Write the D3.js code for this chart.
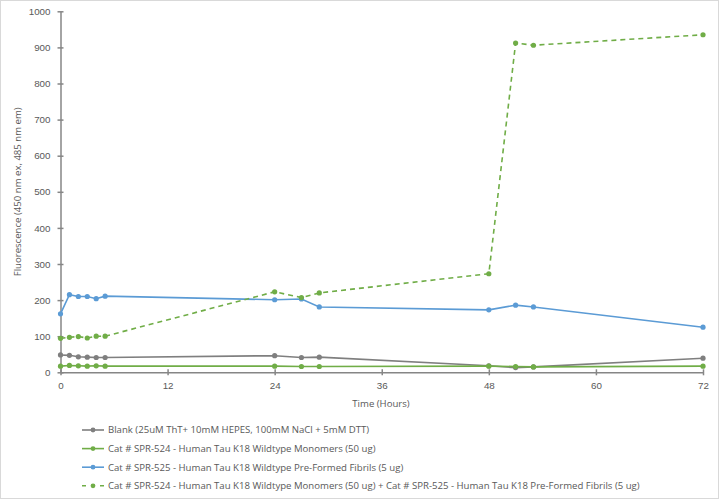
<!DOCTYPE html>
<html>
<head>
<meta charset="utf-8">
<script src="https://cdn.jsdelivr.net/npm/d3@7"></script>
<style>
  body { margin: 0; background: #fff; }
  svg { display: block; font-family: 'Open Sans', sans-serif; }
  .axis text { fill: #595959; font-size: 9.8px; }
  .axis path, .axis line { stroke: #868686; stroke-width: 1.5; }
</style>
</head>
<body>
<svg width="719" height="500"></svg>
<script>
// time points (hours)
const hours = [0, 1, 2, 3, 4, 5, 24, 27, 29, 48, 51, 53, 72]

const blank = [48, 47, 43, 42, 41, 41, 46, 41, 42, 18, 13, 15, 39]
const monomers = [17, 19, 18, 17, 18, 17, 17, 16, 16, 17, 16, 15, 17]
const fibrils = [162, 215, 210, 210, 204, 211, 201, 203, 181, 173, 186, 181, 125]
const combined = [94, 97, 99, 95, 100, 100, 223, 207, 220, 273, 912, 906, 935]

const seriesNames = [
  'Blank (25uM ThT+ 10mM HEPES, 100mM NaCl + 5mM DTT)',
  'Cat # SPR-524 - Human Tau K18 Wildtype Monomers (50 ug)',
  'Cat # SPR-525 - Human Tau K18 Wildtype Pre-Formed Fibrils (5 ug)',
  'Cat # SPR-524 - Human Tau K18 Wildtype Monomers (50 ug) + Cat # SPR-525 - Human Tau K18 Pre-Formed Fibrils (5 ug)'
]
const seriesColors = ['#7f7f7f', '#70ad47', '#5b9bd5', '#70ad47']
const seriesDash = [null, null, null, '5,4']

const xTicks = [0, 12, 24, 36, 48, 60, 72]
const yTicks = [0, 100, 200, 300, 400, 500, 600, 700, 800, 900, 1000]

const svg = d3.select('svg')
const width = +svg.attr('width')
const height = +svg.attr('height')

// outer chart border
svg.append('rect')
  .attr('x', 0.5).attr('y', 0.5)
  .attr('width', width - 1).attr('height', height - 2)
  .attr('fill', '#fff')
  .attr('stroke', '#d9d9d9')

const x = d3.scaleLinear().domain([0, 72]).range([60.5, 703])
const y = d3.scaleLinear().domain([0, 1000]).range([372.3, 11.3])

const series = [blank, monomers, fibrils, combined].map((vals, i) => ({
  name: seriesNames[i],
  color: seriesColors[i],
  dash: seriesDash[i],
  points: vals.map((v, j) => ({ t: hours[j], v }))
}))

svg.append('g')
  .attr('class', 'axis')
  .attr('transform', `translate(0,${y(0)})`)
  .call(d3.axisBottom(x).tickValues(xTicks).tickFormat(d3.format('d')).tickSizeInner(0).tickSizeOuter(0).tickPadding(10))
  .call(g => g.selectAll('.tick line').attr('y1', -3).attr('y2', 3))

svg.append('g')
  .attr('class', 'axis')
  .attr('transform', `translate(${x(0)},0)`)
  .call(d3.axisLeft(y).tickValues(yTicks).tickFormat(d3.format('d')).tickSizeInner(0).tickSizeOuter(0).tickPadding(10))
  .call(g => g.selectAll('.tick line').attr('x1', -3).attr('x2', 3))

const line = d3.line().x(d => x(d.t)).y(d => y(d.v))

const s = svg.append('g').selectAll('g')
  .data(series)
  .join('g')

s.append('path')
  .attr('d', d => line(d.points))
  .attr('fill', 'none')
  .attr('stroke', d => d.color)
  .attr('stroke-width', 1.6)
  .attr('stroke-dasharray', d => d.dash)

s.selectAll('circle')
  .data(d => d.points.map(p => ({ ...p, color: d.color })))
  .join('circle')
  .attr('cx', d => x(d.t))
  .attr('cy', d => y(d.v))
  .attr('r', 2.6)
  .attr('fill', d => d.color)

// axis titles
svg.append('text')
  .attr('x', 381).attr('y', 407)
  .attr('text-anchor', 'middle')
  .attr('fill', '#595959')
  .attr('font-size', 9.6)
  .text('Time (Hours)')

svg.append('text')
  .attr('transform', `translate(21,${(y(0) + y(1000)) / 2}) rotate(-90)`)
  .attr('text-anchor', 'middle')
  .attr('fill', '#595959')
  .attr('font-size', 9.6)
  .text('Fluorescence (450 nm ex, 485 nm em)')

// legend
const legend = svg.append('g')
  .selectAll('g')
  .data(series)
  .join('g')
  .attr('transform', (d, i) => `translate(82,${430 + i * 18.6})`)

legend.append('line')
  .attr('x1', 0).attr('x2', 22)
  .attr('stroke', d => d.color)
  .attr('stroke-width', 1.6)
  .attr('stroke-dasharray', d => d.dash ? '4,5' : null)

legend.append('circle')
  .attr('cx', 11).attr('r', 2.4)
  .attr('fill', d => d.color)

legend.append('text')
  .attr('x', 26).attr('dy', '0.35em')
  .attr('fill', '#595959')
  .attr('font-size', 9.6)
  .text(d => d.name)
</script>
</body>
</html>
